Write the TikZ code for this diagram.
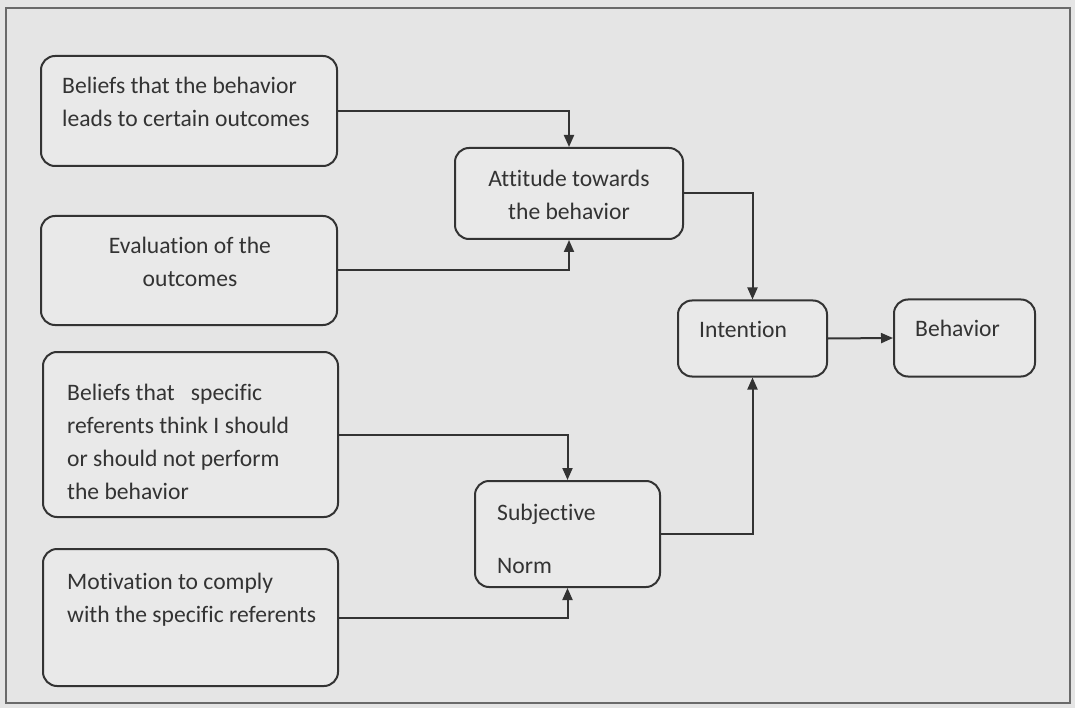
\documentclass[tikz,border=0pt]{standalone}
\usepackage{fontspec}
\setmainfont{Carlito}[Ligatures=NoCommon]
\usepackage{xcolor}
\usepackage{tikz}
\usetikzlibrary{positioning, arrows.meta}
\definecolor{scanbg}{HTML}{E5E5E5}
\definecolor{boxbg}{HTML}{E9E9E9}
\definecolor{inkgray}{HTML}{333333}
\definecolor{framegray}{HTML}{6A6A6A}

\begin{document}
\begin{tikzpicture}[x=1pt, y=-1pt,
  factor/.style={
    draw=inkgray, line width=2pt, rounded corners=14pt, fill=boxbg,
    inner sep=0pt
  },
  boxtext/.style={inner sep=0pt, text=inkgray, font=\fontsize{23.6}{33}\selectfont},
  arrow/.style={-{Triangle[length=12pt, width=10pt]}, line width=2pt, inkgray}
]

\fill[scanbg] (0,0) rectangle (1075,708);
\useasboundingbox (0,0) rectangle (1075,708);
\draw[framegray, line width=2pt] (6,8) rectangle (1070,703);

\node[factor, minimum width=296pt, minimum height=110pt] (beliefs) at (189,111) {};
\node[factor, minimum width=296pt, minimum height=109pt] (evaluation) at (189,270.5) {};
\node[factor, minimum width=295pt, minimum height=165pt] (referents) at (190.5,434.5) {};
\node[factor, minimum width=295pt, minimum height=137pt] (motivation) at (190.5,617.5) {};
\node[factor, minimum width=228pt, minimum height=91pt] (attitude) at (569,193.5) {};
\node[factor, minimum width=185pt, minimum height=106pt] (norm) at (567.5,534) {};
\node[factor, minimum width=149pt, minimum height=76pt] (intention) at (752.5,338.5) {};
\node[factor, minimum width=141pt, minimum height=77pt] (behavior) at (964.5,338) {};

\node[boxtext, anchor=base west, align=left] (beliefstext) at (62,127) {Beliefs that the behavior\\leads to certain outcomes};
\node[boxtext, anchor=base, align=center] (evaluationtext) at (190,287) {Evaluation of the\\outcomes};
\node[boxtext, anchor=base west, align=left] (referentstext) at (67,499) {Beliefs that\ \ \ specific\\referents think I should\\or should not perform\\the behavior};
\node[boxtext, anchor=base west, align=left] (motivationtext) at (67,622) {Motivation to comply\\with the specific referents};
\node[boxtext, anchor=base, align=center] (attitudetext) at (569,220) {Attitude towards\\the behavior};
\node[boxtext, anchor=base west, align=left] (normtext) at (497,573) {Subjective\\[20pt]Norm};
\node[boxtext, anchor=base west] (intentiontext) at (699,337) {Intention};
\node[boxtext, anchor=base west] (behaviortext) at (915,336) {Behavior};

\draw[arrow] (beliefs.east) -| (attitude.north);
\draw[arrow] (evaluation.east) -| (attitude.south);
\draw[arrow] (referents.east) -| (norm.north);
\draw[arrow] (motivation.east) -| (norm.south);
\draw[arrow] (attitude.east) -| (intention.north);
\draw[arrow] (norm.east) -| (intention.south);
\draw[arrow] (intention.east) -- (behavior.west);

\end{tikzpicture}
\end{document}
